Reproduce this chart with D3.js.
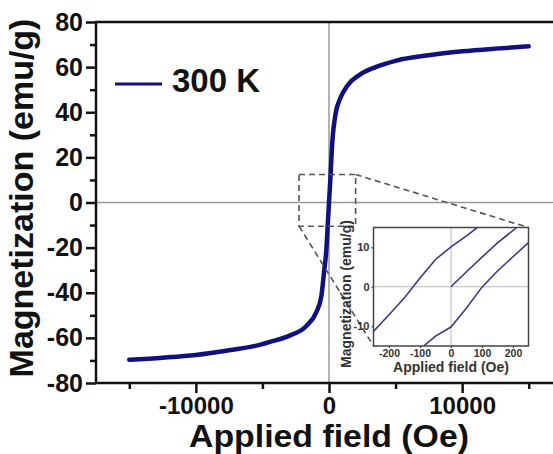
<!DOCTYPE html>
<html><head><meta charset="utf-8">
<script src="https://cdn.jsdelivr.net/npm/d3@7"></script>
<style>
html,body{margin:0;padding:0;background:#fff;overflow:hidden;}
svg{display:block;font-family:"Liberation Sans",Arial,Helvetica,sans-serif;font-weight:bold;}
</style></head><body>
<svg id="chart" width="553" height="454"></svg>
<script>
// ---------- data ----------
const seriesLabel = "300 K";
const mainField = [-15000,-12500,-10000,-7500,-5000,-4500,-3000,-1700,-950,-570,-375,-200,-100,0,100,250,500,800,1400,2300,3500,5000,7500,10000,12500,15000];
const mainMag   = [-69.7,-68.8,-67.6,-65.5,-62.8,-61.9,-59.1,-54.7,-48.6,-41.4,-31,-21,-10.5,0,10.2,27,39.5,45.5,52,56.6,60,62.8,65.3,67,68.2,69.2];

const insetDescField = [-250,-200,-150,-100,-50,0,50,85];
const insetDescMag   = [-11.3,-7.1,-2.8,2.2,6.9,10.1,12.9,15];
const insetAscField  = [-88,-50,0,50,100,150,200,250];
const insetAscMag    = [-15,-12.5,-10.2,-5.4,-0.1,4.0,7.6,11.2];
const insetVirginField = [0,50,100,150,212];
const insetVirginMag   = [0,3.8,7.5,11.1,15];

const xMajorTicks = [-10000,0,10000];
const xMinorTicks = [-15000,-5000,5000,15000];
const yMajorTicks = [-80,-60,-40,-20,0,20,40,60,80];
const yMinorTicks = [-70,-50,-30,-10,10,30,50,70];
const insetXTicks = [-200,-100,0,100,200];
const insetYTicks = [-10,0,10];

const zoomBoxField = [-2250, 2000];
const zoomBoxMag   = [-10.5, 12.4];

const xTitle = "Applied field (Oe)";
const yTitle = "Magnetization (emu/g)";

// ---------- layout ----------
const svg = d3.select("#chart");
const W = 553, H = 454;
const plot = {left: 96, right: 562, top: 22, bottom: 383};
const inset = {left: 373.5, right: 528.5, top: 227.5, bottom: 346};
const lineColor = "#10107f";
const insetColor = "#3a3a8a";
const FONT = '"Liberation Sans",Arial,sans-serif';

const x = d3.scaleLinear().domain([-17500, 17500]).range([plot.left, plot.right]);
const y = d3.scaleLinear().domain([-80, 80]).range([plot.bottom, plot.top]);

svg.append("rect").attr("width", W).attr("height", H).attr("fill", "#fff");

// zero lines
svg.append("line").attr("x1", plot.left).attr("x2", plot.right)
  .attr("y1", y(0)).attr("y2", y(0)).attr("stroke", "#9a9a9a").attr("stroke-width", 1.5);
svg.append("line").attr("x1", x(0)).attr("x2", x(0))
  .attr("y1", plot.top).attr("y2", plot.bottom).attr("stroke", "#9a9a9a").attr("stroke-width", 1.5);

// main curve
const mainData = mainField.map((f, i) => [f, mainMag[i]]);
svg.append("path").datum(mainData)
  .attr("fill", "none").attr("stroke", lineColor).attr("stroke-width", 4.5)
  .attr("stroke-linejoin", "round").attr("stroke-linecap", "round")
  .attr("d", d3.line().x(d => x(d[0])).y(d => y(d[1])).curve(d3.curveMonotoneX));

// axes
function styleAxis(g, size) {
  g.selectAll(".domain").remove();
  g.selectAll(".tick line").attr("stroke", "#111").attr("stroke-width", 2.5);
  g.selectAll("text").attr("fill", "#111").attr("font-size", size)
    .attr("font-family", FONT).attr("font-weight", "bold");
}
const gxMin = svg.append("g").attr("transform", `translate(0,${plot.bottom})`)
  .call(d3.axisBottom(x).tickValues(xMinorTicks).tickSize(6).tickFormat(""));
styleAxis(gxMin, 24);
const gx = svg.append("g").attr("transform", `translate(0,${plot.bottom})`)
  .call(d3.axisBottom(x).tickValues(xMajorTicks).tickSize(10).tickPadding(4).tickFormat(d3.format("d")));
styleAxis(gx, 24);
const gyMin = svg.append("g").attr("transform", `translate(${plot.left},0)`)
  .call(d3.axisLeft(y).tickValues(yMinorTicks).tickSize(6).tickFormat(""));
styleAxis(gyMin, 25);
const gy = svg.append("g").attr("transform", `translate(${plot.left},0)`)
  .call(d3.axisLeft(y).tickValues(yMajorTicks).tickSize(10).tickPadding(3).tickFormat(d3.format("d")));
styleAxis(gy, 25);
gx.selectAll("text").text(d => String(d));
gy.selectAll("text").text(d => String(d));

// frame lines (left, bottom, top)
svg.append("path")
  .attr("d", `M${plot.right},${plot.top}H${plot.left}V${plot.bottom}H${plot.right}`)
  .attr("fill", "none").attr("stroke", "#111").attr("stroke-width", 2.5);

// titles
svg.append("text").attr("x", x(0)).attr("y", 447.3)
  .attr("text-anchor", "middle").attr("font-size", 31)
  .attr("textLength", 280).attr("lengthAdjust", "spacingAndGlyphs")
  .attr("fill", "#111").text(xTitle);
svg.append("text").attr("transform", "translate(33,198) rotate(-90)")
  .attr("text-anchor", "middle").attr("font-size", 34).attr("fill", "#111").text(yTitle);

// legend
svg.append("line").attr("x1", 115).attr("x2", 162).attr("y1", 84).attr("y2", 84)
  .attr("stroke", lineColor).attr("stroke-width", 3);
svg.append("text").attr("x", 172).attr("y", 92).attr("font-size", 33).attr("fill", "#111").text(seriesLabel);

// zoom box + connectors
const bx0 = x(zoomBoxField[0]), bx1 = x(zoomBoxField[1]);
const by0 = y(zoomBoxMag[1]), by1 = y(zoomBoxMag[0]);
const dash = "6,4";
svg.append("rect").attr("x", bx0).attr("y", by0).attr("width", bx1 - bx0).attr("height", by1 - by0)
  .attr("fill", "none").attr("stroke", "#555").attr("stroke-width", 1.6).attr("stroke-dasharray", dash);
svg.append("line").attr("x1", bx1).attr("y1", by0).attr("x2", inset.right).attr("y2", inset.top)
  .attr("stroke", "#555").attr("stroke-width", 1.6).attr("stroke-dasharray", dash);
svg.append("line").attr("x1", bx0).attr("y1", by1).attr("x2", inset.left).attr("y2", inset.bottom)
  .attr("stroke", "#555").attr("stroke-width", 1.6).attr("stroke-dasharray", dash);

// ---------- inset ----------
const ix = d3.scaleLinear().domain([-250, 250]).range([inset.left, inset.right]);
const iy = d3.scaleLinear().domain([-15, 15]).range([inset.bottom, inset.top]);
svg.append("rect").attr("x", inset.left).attr("y", inset.top)
  .attr("width", inset.right - inset.left).attr("height", inset.bottom - inset.top).attr("fill", "#fff");
svg.append("clipPath").attr("id", "iclip").append("rect")
  .attr("x", inset.left).attr("y", inset.top)
  .attr("width", inset.right - inset.left).attr("height", inset.bottom - inset.top);
const ig = svg.append("g").attr("clip-path", "url(#iclip)");
ig.append("line").attr("x1", inset.left).attr("x2", inset.right).attr("y1", iy(0)).attr("y2", iy(0))
  .attr("stroke", "#bbb").attr("stroke-width", 1);
ig.append("line").attr("x1", ix(0)).attr("x2", ix(0)).attr("y1", inset.top).attr("y2", inset.bottom)
  .attr("stroke", "#bbb").attr("stroke-width", 1);
const iline = d3.line().x(d => ix(d[0])).y(d => iy(d[1]));
[[insetDescField, insetDescMag], [insetAscField, insetAscMag], [insetVirginField, insetVirginMag]]
  .forEach(([f, m]) => {
    ig.append("path").datum(f.map((v, i) => [v, m[i]]))
      .attr("fill", "none").attr("stroke", insetColor).attr("stroke-width", 1.6)
      .attr("d", iline);
  });
svg.append("rect").attr("x", inset.left).attr("y", inset.top)
  .attr("width", inset.right - inset.left).attr("height", inset.bottom - inset.top)
  .attr("fill", "none").attr("stroke", "#444").attr("stroke-width", 1.5);

const igx = svg.append("g").attr("transform", `translate(0,${inset.bottom})`)
  .call(d3.axisBottom(ix).tickValues(insetXTicks).tickSize(2).tickPadding(2).tickFormat(d3.format("d")));
igx.selectAll(".domain").remove();
igx.selectAll(".tick line").attr("stroke", "#444").attr("stroke-width", 1.2);
igx.selectAll("text").attr("font-size", 10.5).attr("fill", "#333").attr("font-family", FONT).attr("font-weight", "bold")
  .text(d => String(d));
const igy = svg.append("g").attr("transform", `translate(${inset.left},0)`)
  .call(d3.axisLeft(iy).tickValues(insetYTicks).tickSize(2).tickPadding(2).tickFormat(d3.format("d")));
igy.selectAll(".domain").remove();
igy.selectAll(".tick line").attr("stroke", "#444").attr("stroke-width", 1.2);
igy.selectAll("text").attr("font-size", 11).attr("fill", "#333").attr("font-family", FONT).attr("font-weight", "bold")
  .text(d => String(d));

svg.append("text").attr("x", ix(0)).attr("y", 372).attr("text-anchor", "middle")
  .attr("font-size", 14).attr("fill", "#333").text(xTitle);
svg.append("text").attr("transform", "translate(350.5,294) rotate(-90)").attr("text-anchor", "middle")
  .attr("font-size", 14).attr("fill", "#333").text(yTitle);
</script>
</body></html>
